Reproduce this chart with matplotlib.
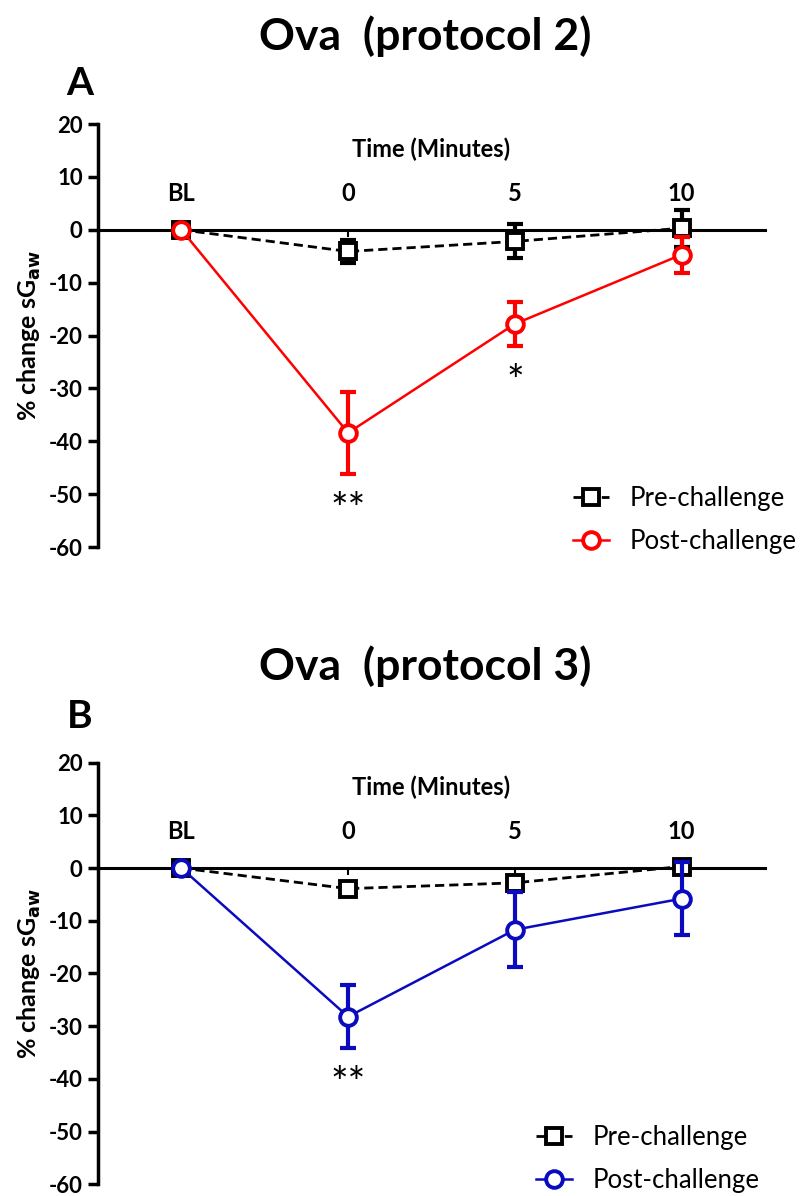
import matplotlib
matplotlib.use("Agg")
import matplotlib.pyplot as plt

plt.rcParams['font.family'] = ['Lato', 'DejaVu Sans']
plt.rcParams['axes.unicode_minus'] = False

times = ["BL", "0", "5", "10"]

# panel A: Ova (protocol 2)
preA = [0, -4.1, -2.2, 0.3]
preA_err = [0, 2.2, 3.2, 3.5]
postA = [0, -38.4, -17.8, -4.7]
postA_err = [0, 7.8, 4.2, 3.4]
starsA = ["", "**", "*", ""]

# panel B: Ova (protocol 3)
preB = [0, -3.9, -2.8, 0.3]
preB_err = [0, 1.0, 1.0, 0.8]
postB = [0, -28.2, -11.7, -5.8]
postB_err = [0, 6.0, 7.1, 6.9]
starsB = ["", "**", "", ""]

fig = plt.figure(figsize=(8.06, 11.96), dpi=100)

panels = [
    dict(rect=[0.1216, 0.5426, 0.8275, 0.3537], title="Ova  (protocol 2)", letter="A",
         title_y=0.970, letter_y=0.930, pre=preA, pre_err=preA_err, post=postA,
         post_err=postA_err, stars=starsA, color="#FF0000", leg_x=0.712, leg_y=0.064),
    dict(rect=[0.1216, 0.0098, 0.8275, 0.3525], title="Ova  (protocol 3)", letter="B",
         title_y=0.443, letter_y=0.401, pre=preB, pre_err=preB_err, post=postB,
         post_err=postB_err, stars=starsB, color="#0A0ABE", leg_x=0.657, leg_y=0.061),
]

x = list(range(len(times)))

for p in panels:
    ax = fig.add_axes(p["rect"])
    c = p["color"]

    # pre-challenge (dashed black, open squares)
    ax.errorbar(x, p["pre"], yerr=p["pre_err"], fmt="none", ecolor="black",
                elinewidth=3, capsize=6, capthick=3, zorder=2)
    ax.plot(x, p["pre"], linestyle=(0, (3.3, 1.8)), color="black", lw=2.0, marker="s",
            ms=11, mfc="white", mec="black", mew=2.8, label="Pre-challenge", zorder=3)

    # post-challenge (solid coloured, open circles)
    ax.errorbar(x, p["post"], yerr=p["post_err"], fmt="none", ecolor=c,
                elinewidth=3, capsize=6, capthick=3, zorder=4)
    ax.plot(x, p["post"], linestyle="-", color=c, lw=1.8, marker="o",
            ms=12, mfc="white", mec=c, mew=2.8, label="Post-challenge", zorder=5)

    for xi, m, e, s in zip(x, p["post"], p["post_err"], p["stars"]):
        if s:
            ax.text(xi, m - e - 7.0, s, ha="center", va="center", fontsize=30)

    ax.set_xlim(-0.5, 3.5)
    ax.set_ylim(-60, 20)
    ax.set_yticks(range(-60, 21, 10))
    ax.tick_params(axis="y", width=2.5, length=7, labelsize=16, pad=4)
    for lab in ax.get_yticklabels():
        lab.set_fontweight("bold")

    ax.spines["right"].set_visible(False)
    ax.spines["bottom"].set_visible(False)
    ax.spines["left"].set_linewidth(2.5)
    ax.spines["top"].set_position(("data", 0))
    ax.spines["top"].set_linewidth(2.2)
    ax.xaxis.tick_top()
    ax.set_xticks(x)
    ax.set_xticklabels(times, fontweight="bold", fontsize=17)
    ax.tick_params(axis="x", direction="in", length=5, width=1.5, pad=18)
    ax.xaxis.set_label_position("top")
    ax.set_xlabel("Time (Minutes)", fontweight="bold", fontsize=17, labelpad=18)
    ax.set_ylabel("% change sG$_{\\mathbf{aw}}$", fontweight="bold", fontsize=18, labelpad=4)

    ax.legend(loc="center left", bbox_to_anchor=(p["leg_x"], p["leg_y"]), frameon=False,
              fontsize=18.5, borderpad=0, borderaxespad=0, handlelength=1.4,
              handletextpad=0.8, labelspacing=0.7)

    fig.text(0.527, p["title_y"], p["title"], ha="center", va="center",
             fontsize=32, fontweight="bold")
    fig.text(0.099, p["letter_y"], p["letter"], ha="center", va="center",
             fontsize=28, fontweight="bold")

fig.savefig("out.png", dpi=100)
